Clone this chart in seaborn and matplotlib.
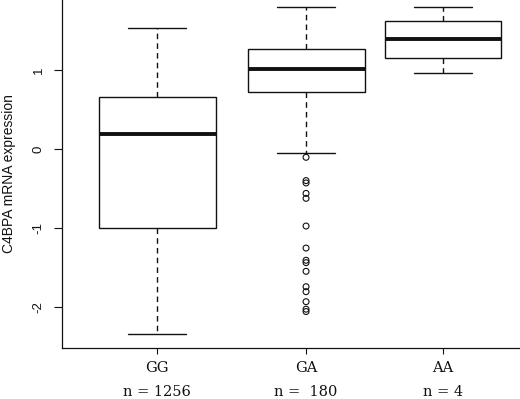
import numpy as np
import pandas as pd
import matplotlib
matplotlib.use("Agg")
import matplotlib.pyplot as plt
import seaborn as sns

# ---- data ----
genotypes = ["GG", "GA", "AA"]
count_labels = ["n = 1256", "n =  180", "n = 4"]
whisker_low = [-2.345, -0.047, 0.959]
q1 = [-1.001, 0.718, 1.157]
median = [0.186, 1.010, 1.394]
q3 = [0.655, 1.263, 1.626]
whisker_high = [1.537, 1.796, 1.804]
ga_outliers = [-0.105, -0.40, -0.43, -0.562, -0.625, -0.976, -1.255,
               -1.41, -1.44, -1.550, -1.745, -1.808, -1.935, -2.03, -2.06]
y_ticks = [-2, -1, 0, 1]
y_tick_labels = ["-2", "-1", "0", "1"]
y_label = "C4BPA mRNA expression"

# layout positions of the groups on the x axis
positions = [1.0, 2.0, 2.919]

sns.set_style("ticks")
plt.rcParams["axes.unicode_minus"] = False
plt.rcParams["font.family"] = ["Liberation Sans", "DejaVu Sans"]

rows = []
for g, p, a, b, c, d, e in zip(genotypes, positions, whisker_low, q1, median, q3, whisker_high):
    for v in (a, b, c, d, e):
        rows.append({"genotype": g, "pos": p, "value": v})
df = pd.DataFrame(rows)
out_df = pd.DataFrame({"pos": [positions[genotypes.index("GA")]] * len(ga_outliers),
                       "value": ga_outliers})

fig = plt.figure(figsize=(5.2, 3.99), dpi=100)
ax = fig.add_axes([62 / 520, 51 / 399, 458 / 520, 348 / 399])

sns.boxplot(data=df, x="pos", y="value", native_scale=True, whis=(0, 100),
            width=0.854, color="white", linecolor="#111111", linewidth=1.0,
            showfliers=False,
            medianprops=dict(linewidth=2.8, color="#111111"),
            whiskerprops=dict(linestyle=(0, (4.0, 3.0)), linewidth=1.0),
            capprops=dict(linewidth=1.0),
            ax=ax)

sns.scatterplot(data=out_df, x="pos", y="value", marker="o", s=18,
                facecolor="none", edgecolor="#111111", linewidth=0.8,
                ax=ax, legend=False)

ax.set_xlim(0.362, 3.436)
ax.set_ylim(-2.522, 1.889)
sns.despine(ax=ax)
for s in ("left", "bottom"):
    ax.spines[s].set_linewidth(0.9)
    ax.spines[s].set_color("#111111")

ax.set_xticks(positions)
ax.set_xticklabels([f"{g}\n{n}" for g, n in zip(genotypes, count_labels)],
                   fontfamily="DejaVu Serif", fontsize=10.5)
for t in ax.get_xticklabels():
    t.set_linespacing(1.95)
ax.set_yticks(y_ticks)
ax.set_yticklabels(y_tick_labels, fontsize=9.5, rotation=90, va="center")
ax.tick_params(axis="y", length=5.5, width=0.8, pad=7, colors="#111111")
ax.tick_params(axis="x", length=4, width=0.8, pad=5, colors="#111111")
ax.set_xlabel("")
ax.set_ylabel(y_label, fontsize=10, labelpad=12, color="#111111")

fig.savefig("out.png", dpi=100, facecolor="white")
